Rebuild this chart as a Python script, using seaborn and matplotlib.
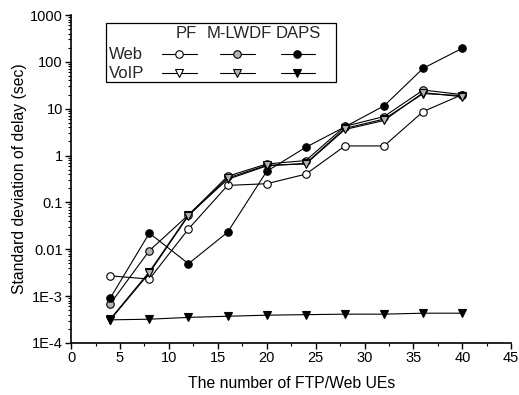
import numpy as np
import pandas as pd
import matplotlib
matplotlib.use("Agg")
import matplotlib.pyplot as plt
from matplotlib.lines import Line2D
from matplotlib.patches import Rectangle
import seaborn as sns

ues = [4, 8, 12, 16, 20, 24, 28, 32, 36, 40]

pf_web = [0.0027, 0.0023, 0.027, 0.23, 0.25, 0.40, 1.6, 1.6, 8.7, 20]
mlwdf_web = [0.00068, 0.0093, 0.054, 0.36, 0.66, 0.78, 4.2, 6.8, 25, 20]
daps_web = [0.0009, 0.022, 0.0049, 0.023, 0.46, 1.5, 4.1, 11.5, 73, 195]

pf_voip = [0.00032, 0.0033, 0.054, 0.31, 0.60, 0.68, 3.8, 6.0, 21, 19]
mlwdf_voip = [0.00031, 0.0031, 0.052, 0.33, 0.62, 0.66, 3.6, 5.6, 22, 18]
daps_voip = [0.00031, 0.00032, 0.00035, 0.00037, 0.00039, 0.0004, 0.00041, 0.00041, 0.00043, 0.00043]

schemes = ["PF", "M-LWDF", "DAPS"]
traffic = ["Web", "VoIP"]
faces = {"PF": "white", "M-LWDF": "#b4b4b4", "DAPS": "black"}
markers = {"Web": "o", "VoIP": "v"}
sizes = {"Web": 5.4, "VoIP": 6.4}

series = {
    ("PF", "Web"): pf_web,
    ("M-LWDF", "Web"): mlwdf_web,
    ("DAPS", "Web"): daps_web,
    ("PF", "VoIP"): pf_voip,
    ("M-LWDF", "VoIP"): mlwdf_voip,
    ("DAPS", "VoIP"): daps_voip,
}

sns.set_theme(style="ticks")
plt.rcParams["font.family"] = ["Liberation Sans", "DejaVu Sans"]

fig = plt.figure(figsize=(5.19, 3.95), dpi=100)
ax = fig.add_axes([0.137, 0.132, 0.848, 0.830])

for (scheme, kind), vals in series.items():
    df = pd.DataFrame({"ues": ues, "std": vals})
    sns.lineplot(data=df, x="ues", y="std", ax=ax, color="black", linewidth=0.8,
                 marker=markers[kind], markersize=sizes[kind],
                 markerfacecolor=faces[scheme], markeredgecolor="black",
                 markeredgewidth=0.8, legend=False)

ax.set_yscale("log")
ax.set_xlim(0, 45)
ax.set_ylim(1e-4, 1000)
ax.set_xticks(np.arange(0, 46, 5))
ax.set_xticks(np.arange(2.5, 45, 5), minor=True)
yt = [1e-4, 1e-3, 1e-2, 0.1, 1, 10, 100, 1000]
ax.set_yticks(yt)
ax.set_yticklabels(["1E-4", "1E-3", "0.01", "0.1", "1", "10", "100", "1000"])
ax.tick_params(axis="both", which="major", direction="out", length=4, width=1,
               labelsize=10.5, color="black", labelcolor="black", pad=2)
ax.tick_params(axis="both", which="minor", direction="out", length=2, width=0.8, color="black")
for s in ["top", "right"]:
    ax.spines[s].set_visible(False)
for s in ["left", "bottom"]:
    ax.spines[s].set_color("black")
    ax.spines[s].set_linewidth(1.2)

ax.set_xlabel("The number of FTP/Web UEs", fontsize=11.3, color="black", labelpad=8)
ax.set_ylabel("Standard deviation of delay (sec)", fontsize=11.3, color="black", labelpad=2)

# table-style legend: scheme columns, traffic rows
tr = ax.transAxes
x0, x1 = 0.079, 0.602
y0, y1 = 0.797, 0.977
ax.add_patch(Rectangle((x0, y0), x1 - x0, y1 - y0, transform=tr, fill=False,
                       edgecolor="black", linewidth=0.9, zorder=5))
head_x = [0.261, 0.382, 0.516]
mark_x = [0.245, 0.377, 0.514]
row_y = {"Web": 0.880, "VoIP": 0.822}
for hx, mx, scheme in zip(head_x, mark_x, schemes):
    ax.text(hx, 0.945, scheme, transform=tr, ha="center", va="center", fontsize=12, zorder=6)
    for kind in traffic:
        ax.add_line(Line2D([mx - 0.038, mx + 0.04], [row_y[kind]] * 2, transform=tr,
                           color="black", linewidth=0.8, zorder=6))
        ax.add_line(Line2D([mx], [row_y[kind]], transform=tr, marker=markers[kind],
                           markersize=sizes[kind], markerfacecolor=faces[scheme],
                           markeredgecolor="black", markeredgewidth=0.8, zorder=7))
for kind in traffic:
    ax.text(0.086, row_y[kind], kind, transform=tr, ha="left", va="center", fontsize=12, zorder=6)

fig.savefig("out.png", dpi=100)
